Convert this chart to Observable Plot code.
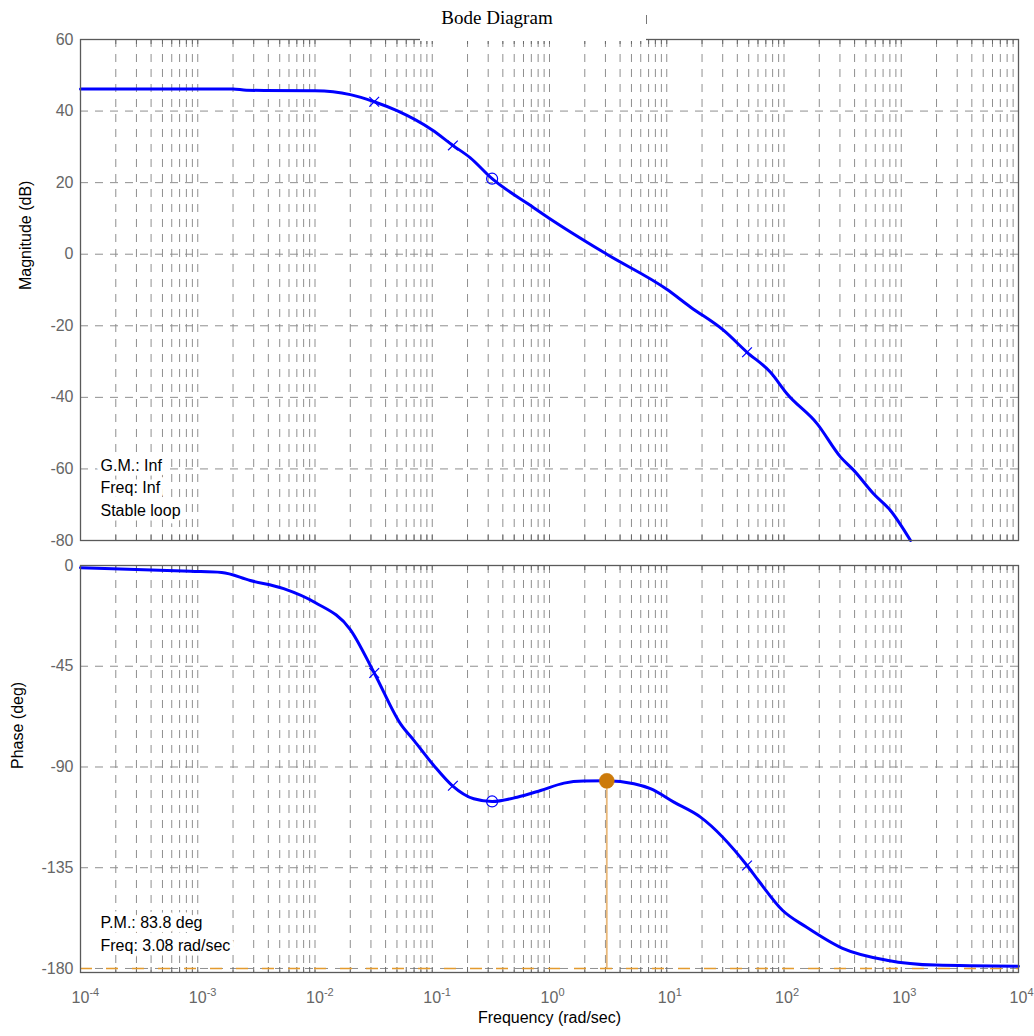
<!DOCTYPE html>
<html>
<head>
<meta charset="utf-8">
<script src="https://cdn.jsdelivr.net/npm/d3@7"></script>
<script src="https://cdn.jsdelivr.net/npm/@observablehq/plot@0.6"></script>
<style>
  body { margin: 0; background: #fff; }
  #wrap { position: relative; width: 1034px; height: 1036px; background: #fff; }
  #wrap svg { display: block; }
  #title { position: absolute; left: 397px; top: 7px; width: 200px; text-align: center;
           font-family: "Liberation Serif", "Times New Roman", serif; font-size: 19px; line-height: 21px; color: #000; }
  #gap { position: absolute; left: 420px; top: 37px; width: 226px; height: 4px; background: #fff; }
  #tick { position: absolute; left: 646px; top: 15px; width: 1px; height: 9px; background: #777; }
</style>
</head>
<body>
<div id="wrap">
  <div id="title">Bode Diagram</div>
</div>
<script>
// ---------- data ----------
const magFreq = [1e-4, 1e-3, 2e-3, 2.6e-3, 1e-2, 2e-2, 0.032, 0.05, 0.1, 0.15, 0.21, 0.324, 0.69, 1, 3.08, 10, 16, 30.6, 48.4, 76.7, 106, 192, 304, 394, 583, 809, 1200];
const magDb   = [46.2, 46.2, 46.2, 45.8, 45.7, 44.6, 42.6, 40.1, 34.7, 30.4, 27, 21.1, 13.6, 10, 0, -9.8, -14.8, -21.3, -27.4, -33, -39, -47.4, -56.7, -60.4, -67, -71.6, -80];

const phFreq = [1e-4, 8.7e-4, 1.6e-3, 2.8e-3, 5.4e-3, 1e-2, 2e-2, 0.032, 0.054, 0.07, 0.103, 0.148, 0.226, 0.324, 0.53, 0.84, 1.33, 1.96, 3.08, 5.25, 7.26, 11.5, 19.4, 48.4, 60.5, 97, 155, 316, 753, 1950, 1e4];
const phDeg  = [-1.0, -2.6, -3.1, -6.7, -10.3, -16.5, -28.6, -48, -71, -78.2, -89.3, -98.3, -104.2, -105.4, -103.5, -100.5, -97.2, -96.3, -96.2, -97.5, -99.7, -105.7, -112.4, -134, -140.7, -154, -161.5, -171, -176.3, -178.5, -179];

const markerFreq   = [0.032, 0.15, 0.324, 48.4];
const markerSymbol = ["times", "times", "circle", "times"];
const markerMag    = [42.6, 30.4, 21.1, -27.4];
const markerPhase  = [-48, -98.4, -105.4, -134];

const pmFreq = 3.08;
const pmPhase = -96.2;
const critPhase = -180;

const xTicks = [1e-4, 1e-3, 1e-2, 1e-1, 1, 10, 100, 1000, 10000];
const xTickExps = ["-4", "-3", "-2", "-1", "0", "1", "2", "3", "4"];
const magTicks = [60, 40, 20, 0, -20, -40, -60, -80];
const magTickLabels = ["60", "40", "20", "0", "-20", "-40", "-60", "-80"];
const phTicks = [0, -45, -90, -135, -180];
const phTickLabels = ["0", "-45", "-90", "-135", "-180"];

const gmLines = ["G.M.: Inf", "Freq: Inf", "Stable loop"];
const pmLines = ["P.M.: 83.8 deg", "Freq: 3.08 rad/sec"];

// ---------- build ----------
const gridFreqs = [];
for (let k = -4; k <= 3; k++) for (let m = 1; m <= 9; m++) gridFreqs.push(m * Math.pow(10, k));
gridFreqs.push(1e4);

const magData = magFreq.map((f, i) => ({f, v: magDb[i]}));
const phData = phFreq.map((f, i) => ({f, v: phDeg[i]}));
const magMarks = markerFreq.map((f, i) => ({f, v: markerMag[i], s: markerSymbol[i]}));
const phMarks = markerFreq.map((f, i) => ({f, v: markerPhase[i], s: markerSymbol[i]}));

const FONT = "Liberation Sans, Arial, Helvetica, sans-serif";
const GRID = {stroke: "#8f8f8f", strokeOpacity: 1, strokeWidth: 1, strokeDasharray: "8,7"};
const BLUE = "#0000ff";
const xScale = {type: "log", domain: [1e-4, 1e4], axis: null};

function markerMarks(data) {
  return [
    Plot.dot(data.filter(d => d.s === "times"), {x: "f", y: "v", symbol: "times", r: 4.5, stroke: BLUE, strokeWidth: 1.2}),
    Plot.dot(data.filter(d => d.s === "circle"), {x: "f", y: "v", symbol: "circle", r: 5.5, stroke: BLUE, strokeWidth: 1.2, fill: "none"})
  ];
}
function edgeTicks(frameH) {
  return [
    Plot.tickX(gridFreqs, {x: d => d, stroke: "#6a6a6a", strokeWidth: 1, insetBottom: frameH - 5}),
    Plot.tickX(gridFreqs, {x: d => d, stroke: "#6a6a6a", strokeWidth: 1, insetTop: frameH - 5})
  ];
}

const topPlot = Plot.plot({
  width: 1034, height: 552,
  marginLeft: 80, marginRight: 16, marginTop: 39, marginBottom: 12,
  style: {fontFamily: FONT, fontSize: "16px", background: "transparent", overflow: "visible"},
  x: xScale,
  y: {domain: [-80, 60], axis: null},
  marks: [
    Plot.gridX(gridFreqs, GRID),
    Plot.gridY(magTicks, GRID),
    ...edgeTicks(552 - 39 - 12),
    Plot.text([gmLines.join("\n")], {text: d => d, frameAnchor: "bottom-left", dx: 20, dy: -25, textAnchor: "start",
      lineAnchor: "bottom", lineHeight: 1.4, fontSize: 16, fill: "#000", stroke: "#fff", strokeWidth: 9, paintOrder: "stroke"}),
    Plot.line(magData, {x: "f", y: "v", stroke: BLUE, strokeWidth: 3, curve: "monotone-x", strokeLinejoin: "round"}),
    ...markerMarks(magMarks),
    Plot.frame({stroke: "#5a5a5a", strokeWidth: 1.3}),
    Plot.axisY(magTicks, {tickSize: 0, tickPadding: 7, color: "#666", fontSize: 16, label: null,
      tickFormat: d => magTickLabels[magTicks.indexOf(d)]}),
    Plot.text(["Magnitude (dB)"], {text: d => d, frameAnchor: "left", rotate: -90, dx: -55, fontSize: 16, fill: "#000"})
  ]
});

const botPlot = Plot.plot({
  width: 1034, height: 484,
  marginLeft: 80, marginRight: 16, marginTop: 13, marginBottom: 64,
  style: {fontFamily: FONT, fontSize: "16px", background: "transparent", overflow: "visible"},
  x: xScale,
  y: {domain: [-181.8, 0], axis: null},
  marks: [
    Plot.gridX(gridFreqs, GRID),
    Plot.gridY(phTicks, GRID),
    ...edgeTicks(484 - 13 - 64),
    Plot.ruleY([critPhase], {stroke: "#e39a2e", strokeWidth: 1.5, strokeDasharray: "12,14"}),
    Plot.ruleX([pmFreq], {y1: pmPhase, y2: critPhase, stroke: "#e8b87a", strokeWidth: 1.8}),
    Plot.text([pmLines.join("\n")], {text: d => d, frameAnchor: "bottom-left", dx: 20, dy: -22, textAnchor: "start",
      lineAnchor: "bottom", lineHeight: 1.4, fontSize: 16, fill: "#000", stroke: "#fff", strokeWidth: 9, paintOrder: "stroke"}),
    Plot.line(phData, {x: "f", y: "v", stroke: BLUE, strokeWidth: 3, curve: "monotone-x", strokeLinejoin: "round"}),
    ...markerMarks(phMarks),
    Plot.dot([{f: pmFreq, v: pmPhase}], {x: "f", y: "v", r: 7.5, fill: "#cc7a0a", stroke: "#cc7a0a", strokeWidth: 0.5}),
    Plot.frame({stroke: "#5a5a5a", strokeWidth: 1.3}),
    Plot.axisY(phTicks, {tickSize: 0, tickPadding: 7, color: "#666", fontSize: 16, label: null,
      tickFormat: d => phTickLabels[phTicks.indexOf(d)]}),
    Plot.axisX(xTicks, {tickSize: 0, tickPadding: 19, color: "#666", fontSize: 16, label: null,
      tickFormat: d => xTickExps[xTicks.indexOf(d)]}),
    Plot.text(["Phase (deg)"], {text: d => d, frameAnchor: "left", rotate: -90, dx: -63, fontSize: 16, fill: "#000"}),
    Plot.text(["Frequency (rad/sec)"], {text: d => d, frameAnchor: "bottom", dy: 50, fontSize: 16, fill: "#000"})
  ]
});

// superscript exponents on x tick labels
d3.select(botPlot).selectAll('g[aria-label="x-axis tick label"] text').each(function () {
  const t = d3.select(this);
  const exp = t.text();
  t.text(null).attr("text-anchor", "start");
  t.append("tspan").attr("dx", "-8.9").text("10");
  t.append("tspan").attr("dy", "-7").attr("font-size", "11px").text(exp);
});

const wrap = document.getElementById("wrap");
wrap.insertBefore(botPlot, wrap.firstChild);
wrap.insertBefore(topPlot, wrap.firstChild);
const gap = document.createElement("div"); gap.id = "gap"; wrap.appendChild(gap);
const tk = document.createElement("div"); tk.id = "tick"; wrap.appendChild(tk);
const title = document.getElementById("title"); wrap.appendChild(title);
</script>
</body>
</html>
